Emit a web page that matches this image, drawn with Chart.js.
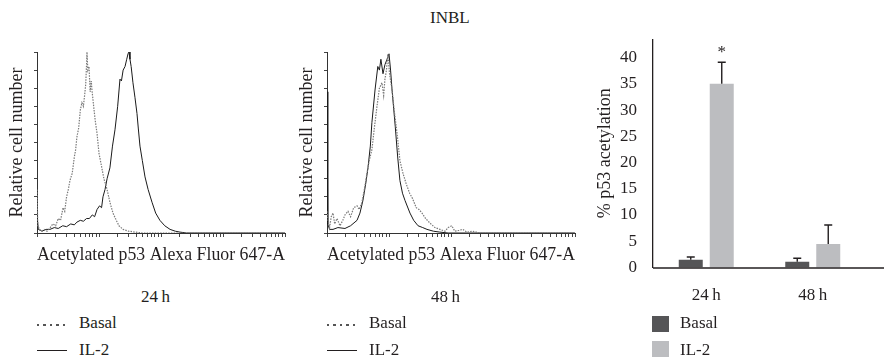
<!DOCTYPE html>
<html>
<head>
<meta charset="utf-8">
<script src="https://cdn.jsdelivr.net/npm/chart.js@4.4.1/dist/chart.umd.min.js"></script>
<style>
  body { margin: 0; width: 884px; height: 362px; background: #fff; position: relative; overflow: hidden;
         font-family: "Liberation Serif", serif; color: #231f20; }
  canvas { position: absolute; }
  .txt { position: absolute; font-size: 17px; line-height: 20px; white-space: nowrap; }
  .dots { position: absolute; width: 28px; height: 2px;
          background: repeating-linear-gradient(to right, #555 0 2px, transparent 2px 6.5px); }
  .solid { position: absolute; width: 30px; height: 0; border-top: 1.5px solid #231f20; }
  .sq { position: absolute; width: 17px; height: 16px; }
</style>
</head>
<body>
<div class="txt" style="left:430px;top:8px;">INBL</div>

<div style="position:absolute;left:0;top:40px;width:292px;height:232px;"><canvas id="hist24"></canvas></div>
<div style="position:absolute;left:290px;top:40px;width:292px;height:232px;"><canvas id="hist48"></canvas></div>
<div style="position:absolute;left:580px;top:20.5px;width:304px;height:294.5px;"><canvas id="bars"></canvas></div>

<div class="txt" style="left:141px;top:287px;">24&#8201;h</div>
<div class="txt" style="left:431px;top:287px;">48&#8201;h</div>

<div class="dots" style="left:37px;top:324px;"></div>
<div class="txt" style="left:79px;top:313px;">Basal</div>
<div class="solid" style="left:37px;top:350px;"></div>
<div class="txt" style="left:79px;top:340px;">IL-2</div>

<div class="dots" style="left:327px;top:324px;"></div>
<div class="txt" style="left:369px;top:313px;">Basal</div>
<div class="solid" style="left:327px;top:350px;"></div>
<div class="txt" style="left:369px;top:340px;">IL-2</div>

<div class="sq" style="left:652px;top:316px;background:#555557;"></div>
<div class="txt" style="left:680px;top:313px;">Basal</div>
<div class="sq" style="left:652px;top:341px;background:#bcbdc0;"></div>
<div class="txt" style="left:680px;top:340px;">IL-2</div>

<script>
// histogram 24 h: fluorescence intensity (log axis) and relative count (%)
const basal24X = [1, 1.03, 1.1, 1.2, 1.3, 1.45, 1.6, 1.8, 2.0, 2.2, 2.4, 2.63, 2.8, 3.0, 3.2, 3.4, 3.7, 4.0, 4.2, 4.4,
  4.7, 5.0, 5.3, 5.6, 5.9, 6.1, 6.3, 6.4, 6.6, 6.9, 7.2, 7.5, 7.7, 8.2, 8.7, 9.3, 10, 11.1, 12, 13.5,
  15, 16.8, 19, 21, 24.4, 30, 38, 50, 10000];
const basal24Y = [24, 4, 2, 1, 2, 1, 2.5, 5, 4, 8, 7, 14, 12, 20, 24, 29, 33, 42, 46, 53,
  58, 68, 72, 70, 77, 82, 93, 100, 90, 92, 78, 84, 79, 70, 62, 55, 44, 36, 30, 24,
  17, 11, 7, 4, 2, 1, 0.5, 0, 0];
const il224X = [1, 1.05, 1.2, 1.4, 1.62, 1.9, 2.2, 2.6, 3.0, 3.5, 4.0, 4.4, 5.0, 5.6, 6.3, 7.0, 7.8, 8.5, 9.3, 10.2,
  11, 11.6, 12.5, 13.5, 15, 16.5, 18.1, 20, 21.8, 23, 24.5, 26.3, 28, 29.4, 30.5, 31.6, 33, 35.3, 38, 41,
  43, 45.8, 50, 55.2, 62, 71.6, 82, 96, 115, 140, 170, 202, 260, 10000];
const il224Y = [10, 2, 1, 2, 2, 3, 2.5, 4, 3.5, 5, 4.5, 6, 7, 6.5, 8, 8, 10, 9, 13, 15,
  14, 20, 24, 30, 36, 48, 57, 70, 85, 84, 90, 92, 96, 99, 100, 96, 92, 83, 75, 66,
  58, 48, 40, 31, 24, 17, 11, 7, 4, 2, 1, 0.5, 0, 0];

// histogram 48 h
const basal48X = [1, 1.04, 1.1, 1.17, 1.25, 1.33, 1.45, 1.62, 1.8, 1.95, 2.18, 2.4, 2.7, 3.05, 3.3, 3.67, 4.0, 4.42, 4.8, 5.3,
  5.8, 6.4, 7.0, 7.7, 8.2, 8.6, 9.1, 9.6, 10.2, 11.2, 12.3, 13.5, 15, 16.8, 19, 21.5, 24, 27.5, 30.5, 34.1,
  39, 45.7, 55, 66.5, 80, 90, 103, 115, 135, 155, 180, 220, 295, 10000];
const basal48Y = [12, 7, 3, 9, 11, 5, 8, 4, 7, 10, 12, 9, 14, 15, 13, 17, 24, 33, 40, 46,
  58, 70, 80, 83, 76, 85, 90, 99, 88, 79, 66, 55, 40, 33, 27, 22, 19, 14, 13, 11,
  8, 5.5, 3, 2, 1, 3, 4, 1, 1.5, 2, 0.5, 1, 0, 0];
const il248X = [1, 1.03, 1.1, 1.25, 1.5, 1.95, 2.4, 3.05, 3.4, 3.8, 4.2, 4.58, 5.0, 5.3, 5.95, 6.6, 7.0, 7.4, 8.0, 8.6,
  9.3, 10, 10.6, 11.2, 12.6, 13.8, 15, 16.5, 18.1, 21.8, 25, 29.4, 35, 41, 52, 66, 90, 10000];
const il248Y = [78, 5, 2, 2, 3, 2.5, 4, 7, 11, 18, 27, 36, 48, 61, 79, 92, 90, 96, 88, 93,
  96, 99, 90, 79, 59, 42, 29, 22, 18, 11, 7, 4, 3, 2, 1, 0.5, 0, 0];

// log axis tick marks: 1..9 per decade, 4 decades
const logTicks = [];
for (let d = 1; d < 10000; d *= 10) {
  for (let k = 1; k < 10; k++) logTicks.push(k * d);
}
logTicks.push(10000);

// bar chart
const categories = ['24\u2009h', '48\u2009h'];
const basalVals = [1.5, 1.1];
const basalErr = [0.5, 0.65];
const il2Vals = [35, 4.5];
const il2Err = [4.1, 3.6];
const il2Marks = ['*', ''];
const barTicks = [0, 5, 10, 15, 20, 25, 30, 35, 40];

const ink = '#231f20';
const serif = 'Liberation Serif';

function pts(xs, ys) {
  return xs.map((x, i) => ({ x: x, y: ys[i] }));
}

function makeHist(id, bx, by, ix, iy) {
  new Chart(document.getElementById(id), {
    type: 'line',
    data: {
      datasets: [
        { label: 'Basal', data: pts(bx, by), borderColor: '#7a7a7a', borderWidth: 1.2,
          borderDash: [1.5, 1.2], pointRadius: 0, tension: 0 },
        { label: 'IL-2', data: pts(ix, iy), borderColor: '#1a1a1a', borderWidth: 1,
          pointRadius: 0, tension: 0 }
      ]
    },
    options: {
      responsive: true,
      maintainAspectRatio: false,
      animation: false,
      layout: { padding: { top: 12, right: 7, left: 0, bottom: 0 } },
      plugins: { legend: { display: false }, tooltip: { enabled: false } },
      scales: {
        x: {
          type: 'logarithmic', min: 1, max: 10000,
          afterBuildTicks: s => { s.ticks = logTicks.map(v => ({ value: v })); },
          afterFit: s => { s.height = 39; },
          ticks: { display: false, autoSkip: false },
          grid: { drawOnChartArea: false, tickLength: 4, color: '#444' },
          border: { color: '#333', width: 1 },
          title: { display: true, text: 'Acetylated p53 Alexa Fluor 647-A', color: ink,
                   font: { family: serif, size: 18 }, padding: { top: 0, bottom: 6 } }
        },
        y: {
          min: 0, max: 100,
          afterFit: s => { s.width = 37; },
          ticks: { display: false, stepSize: 10 },
          grid: { drawOnChartArea: false, tickLength: 3, color: '#444' },
          border: { color: '#333', width: 1 },
          title: { display: true, text: 'Relative cell number', color: ink,
                   font: { family: serif, size: 18 }, padding: { top: 6, bottom: 0 } }
        }
      }
    }
  });
}

makeHist('hist24', basal24X, basal24Y, il224X, il224Y);
makeHist('hist48', basal48X, basal48Y, il248X, il248Y);

const errorBars = {
  id: 'errorBars',
  afterDatasetsDraw(chart) {
    const ctx = chart.ctx;
    const y = chart.scales.y;
    ctx.save();
    ctx.strokeStyle = ink;
    ctx.fillStyle = ink;
    ctx.lineWidth = 1.4;
    chart.data.datasets.forEach((ds, i) => {
      chart.getDatasetMeta(i).data.forEach((bar, j) => {
        const top = y.getPixelForValue(ds.data[j] + ds.errors[j]);
        ctx.beginPath();
        ctx.moveTo(bar.x, bar.y);
        ctx.lineTo(bar.x, top);
        ctx.moveTo(bar.x - 4, top);
        ctx.lineTo(bar.x + 4, top);
        ctx.stroke();
        if (ds.marks && ds.marks[j]) {
          ctx.font = '17px "' + serif + '"';
          ctx.textAlign = 'center';
          ctx.textBaseline = 'bottom';
          ctx.fillText(ds.marks[j], bar.x, top - 1);
        }
      });
    });
  },
  afterDraw(chart) {
    // x axis line, running on to the right edge
    const ctx = chart.ctx;
    const a = chart.chartArea;
    ctx.save();
    ctx.strokeStyle = ink;
    ctx.lineWidth = 1.3;
    ctx.beginPath();
    ctx.moveTo(a.left, a.bottom + 0.5);
    ctx.lineTo(chart.width, a.bottom + 0.5);
    ctx.stroke();
    ctx.restore();
  }
};

new Chart(document.getElementById('bars'), {
  type: 'bar',
  data: {
    labels: categories,
    datasets: [
      { label: 'Basal', data: basalVals, errors: basalErr, backgroundColor: '#555557',
        categoryPercentage: 0.582, barPercentage: 0.774 },
      { label: 'IL-2', data: il2Vals, errors: il2Err, marks: il2Marks, backgroundColor: '#bcbdc0',
        categoryPercentage: 0.582, barPercentage: 0.774 }
    ]
  },
  options: {
    responsive: true,
    maintainAspectRatio: false,
    animation: false,
    layout: { padding: { top: 0, right: 18, left: 0, bottom: 0 } },
    plugins: { legend: { display: false }, tooltip: { enabled: false } },
    scales: {
      x: {
        afterFit: s => { s.height = 48; },
        grid: { display: false },
        border: { display: false },
        ticks: { color: ink, font: { family: serif, size: 17 }, padding: 10 }
      },
      y: {
        min: 0, max: 43.5,
        afterBuildTicks: s => { s.ticks = barTicks.map(v => ({ value: v })); },
        afterFit: s => { s.width = 73; },
        grid: { display: false },
        border: { color: ink, width: 1.3 },
        ticks: { color: ink, font: { family: serif, size: 17 }, padding: 8 },
        title: { display: true, text: '% p53 acetylation', color: ink,
                 font: { family: serif, size: 18 }, padding: { top: 14, bottom: 0 } }
      }
    }
  },
  plugins: [errorBars]
});
</script>
</body>
</html>
